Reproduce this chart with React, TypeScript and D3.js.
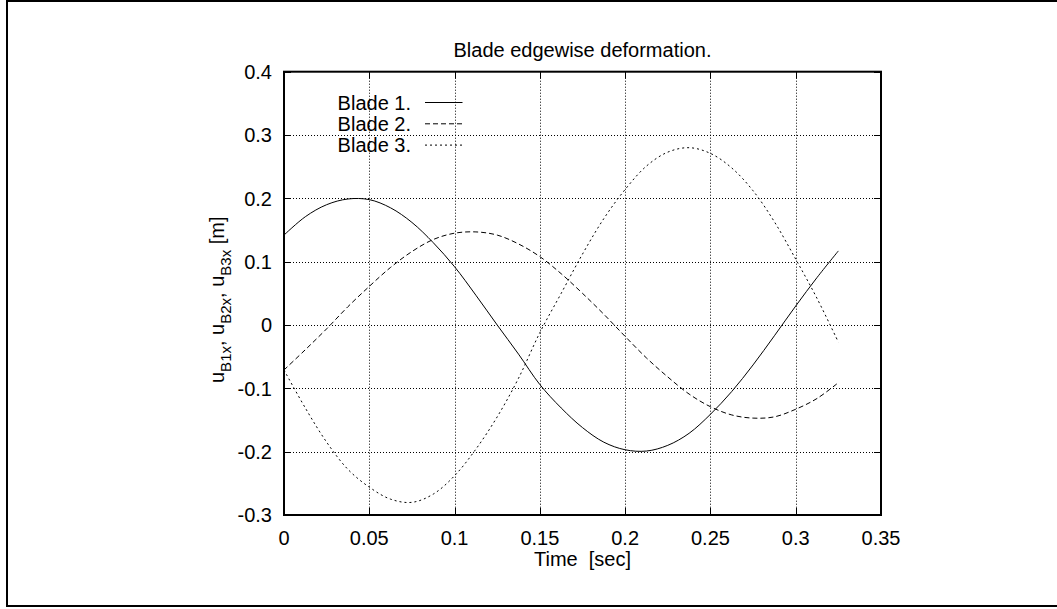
import React from "react";
import * as d3 from "d3";

const times = [0, 0.0125, 0.025, 0.0375, 0.05, 0.0625, 0.075, 0.0875, 0.1, 0.1125, 0.125, 0.1375, 0.15, 0.1625, 0.175, 0.1875, 0.2, 0.2125, 0.225, 0.2375, 0.25, 0.2625, 0.275, 0.2875, 0.3, 0.3125, 0.325];
const blade1 = [0.142, 0.171, 0.190, 0.199, 0.198, 0.185, 0.162, 0.130, 0.092, 0.047, 0.000, -0.046, -0.094, -0.131, -0.162, -0.185, -0.197, -0.199, -0.190, -0.171, -0.141, -0.105, -0.063, -0.017, 0.030, 0.075, 0.117];
const blade2 = [-0.071, -0.039, -0.006, 0.029, 0.061, 0.091, 0.116, 0.135, 0.145, 0.147, 0.142, 0.128, 0.108, 0.081, 0.050, 0.017, -0.018, -0.052, -0.082, -0.109, -0.129, -0.142, -0.147, -0.145, -0.133, -0.116, -0.091];
const blade3 = [-0.071, -0.131, -0.185, -0.228, -0.256, -0.275, -0.280, -0.267, -0.238, -0.196, -0.145, -0.084, -0.012, 0.050, 0.112, 0.168, 0.214, 0.251, 0.273, 0.280, 0.271, 0.248, 0.212, 0.163, 0.104, 0.042, -0.027];

const xTicks = [0, 0.05, 0.1, 0.15, 0.2, 0.25, 0.3, 0.35];
const xTickLabels = ["0", "0.05", "0.1", "0.15", "0.2", "0.25", "0.3", "0.35"];
const yTicks = [0.4, 0.3, 0.2, 0.1, 0, -0.1, -0.2, -0.3];
const yTickLabels = ["0.4", "0.3", "0.2", "0.1", "0", "-0.1", "-0.2", "-0.3"];

const seriesNames = ["Blade 1.", "Blade 2.", "Blade 3."];
const seriesValues = [blade1, blade2, blade3];
const seriesDash = ["none", "5,3", "2,3"];

const title = "Blade edgewise deformation.";
const xLabel = "Time  [sec]";

export default function App() {
  const W = 1057, H = 609;
  const L = 284, R = 881, T = 71.7, B = 515;
  const x = d3.scaleLinear().domain([0, 0.35]).range([L, R]);
  const y = d3.scaleLinear().domain([-0.3, 0.4]).range([B, T]);
  const font = "'Liberation Sans', Arial, Helvetica, sans-serif";
  const fs = 20;
  const line = d3
    .line<number>()
    .x((_, i) => x(times[i]))
    .y((d) => y(d))
    .curve(d3.curveCatmullRom.alpha(0.5));

  const tickLen = 7;
  return (
    <svg
      width={W}
      height={H}
      style={{ position: "absolute", left: 0, top: 0, background: "#fff" }}
      fontFamily={font}
    >
      <rect x={0} y={0} width={W} height={H} fill="#fff" />
      {/* outer border */}
      <path d={`M${W + 5},1 H7 V606 H${W + 5}`} fill="none" stroke="#000" strokeWidth={2} />

      {/* grid */}
      {xTicks.slice(1, -1).map((t) => (
        <line key={"gx" + t} x1={Math.round(x(t)) + 0.5} x2={Math.round(x(t)) + 0.5} y1={T} y2={B}
          stroke="#000" strokeWidth={1} strokeDasharray="1,2" />
      ))}
      {yTicks.slice(1, -1).map((t) => (
        <line key={"gy" + t} x1={L} x2={R} y1={Math.round(y(t)) + 0.5} y2={Math.round(y(t)) + 0.5}
          stroke="#000" strokeWidth={1} strokeDasharray="1,2" />
      ))}

      {/* ticks */}
      {xTicks.map((t) => (
        <g key={"tx" + t}>
          <line x1={Math.round(x(t)) + 0.5} x2={Math.round(x(t)) + 0.5} y1={B} y2={B - tickLen} stroke="#000" />
          <line x1={Math.round(x(t)) + 0.5} x2={Math.round(x(t)) + 0.5} y1={T} y2={T + tickLen} stroke="#000" />
        </g>
      ))}
      {yTicks.map((t) => (
        <g key={"ty" + t}>
          <line x1={L} x2={L + tickLen} y1={Math.round(y(t)) + 0.5} y2={Math.round(y(t)) + 0.5} stroke="#000" />
          <line x1={R} x2={R - tickLen} y1={Math.round(y(t)) + 0.5} y2={Math.round(y(t)) + 0.5} stroke="#000" />
        </g>
      ))}

      {/* tick labels */}
      {xTicks.map((t, i) => (
        <text key={"lx" + t} x={x(t)} y={545} textAnchor="middle" fontSize={fs}>
          {xTickLabels[i]}
        </text>
      ))}
      {yTicks.map((t, i) => (
        <text key={"ly" + t} x={272} y={y(t) + 7.2} textAnchor="end" fontSize={fs}>
          {yTickLabels[i]}
        </text>
      ))}

      {/* series */}
      {seriesValues.map((vals, i) => (
        <path key={"s" + i} d={line(vals) || ""} fill="none" stroke="#000" strokeWidth={1}
          strokeDasharray={seriesDash[i]} />
      ))}

      {/* frame */}
      <rect x={L} y={T} width={R - L} height={B - T} fill="none" stroke="#000" strokeWidth={2} />

      {/* legend */}
      {seriesNames.map((n, i) => (
        <g key={"lg" + i}>
          <text x={411} y={110 + i * 20.9} textAnchor="end" fontSize={fs}>{n}</text>
          <line x1={425} x2={462.5} y1={102.5 + i * 21.3} y2={102.5 + i * 21.3} stroke="#000" strokeWidth={1}
            strokeDasharray={seriesDash[i]} />
        </g>
      ))}

      {/* title */}
      <text x={(L + R) / 2} y={57} textAnchor="middle" fontSize={fs}>{title}</text>
      {/* x label */}
      <text x={(L + R) / 2} y={566} textAnchor="middle" fontSize={fs} style={{ whiteSpace: "pre" }}>{xLabel}</text>
      {/* y label */}
      <text transform="translate(223.5,383) rotate(-90)" fontSize={fs} textAnchor="start">
        <tspan>u</tspan>
        <tspan dy={7} fontSize={15}>B1x</tspan>
        <tspan dy={-7}>, u</tspan>
        <tspan dy={7} fontSize={15}>B2x</tspan>
        <tspan dy={-7}>, u</tspan>
        <tspan dy={7} fontSize={15}>B3x</tspan>
        <tspan dy={-7}> [m]</tspan>
      </text>
    </svg>
  );
}
